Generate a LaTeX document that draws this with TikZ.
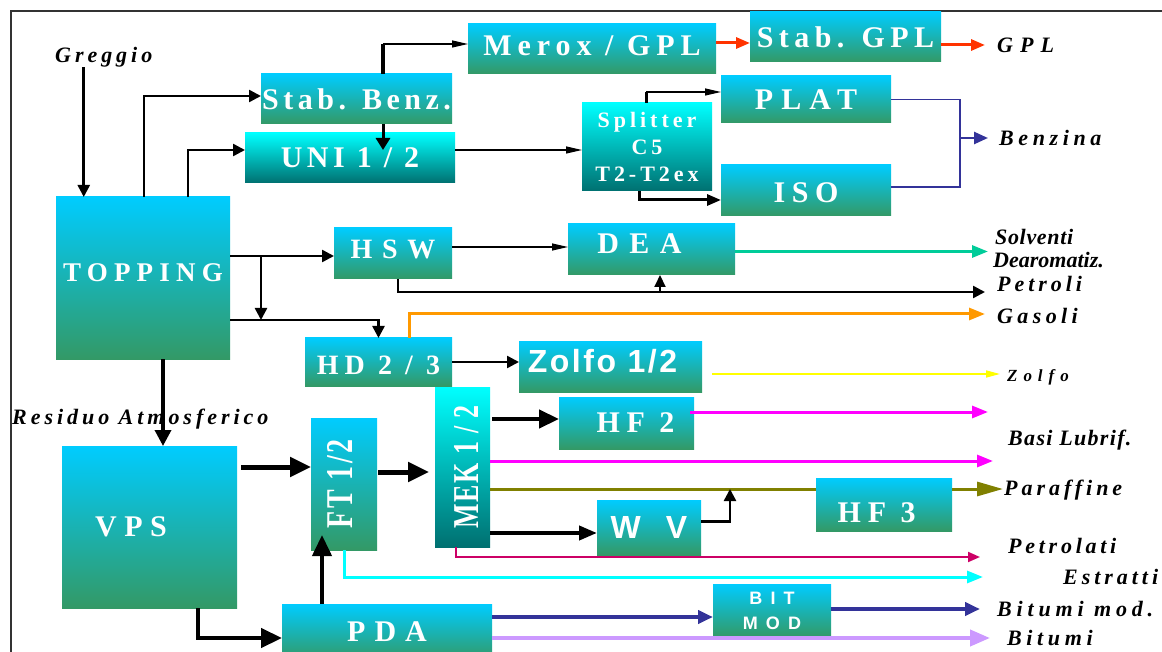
\documentclass[tikz,border=0pt]{standalone}
\usepackage{fontspec}
\usepackage{graphicx}
\setmainfont{Liberation Serif}
\newfontfamily\sansfam{Liberation Sans}
\usetikzlibrary{arrows.meta}

\definecolor{boxtop}{RGB}{0,204,255}
\definecolor{boxbot}{RGB}{51,153,102}
\definecolor{cyantop}{RGB}{0,255,255}
\definecolor{tealbot}{RGB}{0,112,112}
\definecolor{gplred}{RGB}{255,51,0}
\definecolor{benznavy}{RGB}{51,51,153}
\definecolor{solvgreen}{RGB}{0,204,153}
\definecolor{gasorange}{RGB}{255,153,0}
\definecolor{zolfoyel}{RGB}{255,255,0}
\definecolor{basimag}{RGB}{255,0,255}
\definecolor{paraolive}{RGB}{128,128,0}
\definecolor{petrcrim}{RGB}{204,0,102}
\definecolor{estrcyan}{RGB}{0,255,255}
\definecolor{bitlav}{RGB}{204,153,255}

% box fonts: size, letter spacing
\newcommand{\bxf}[2]{\fontsize{#1}{#1}\selectfont\bfseries\addfontfeature{LetterSpace=#2}}
\newcommand{\sxf}[2]{\sansfam\fontsize{#1}{#1}\selectfont\bfseries\addfontfeature{LetterSpace=#2}}
\newcommand{\lblf}[2]{\fontsize{#1}{#1}\selectfont\bfseries\itshape\addfontfeature{LetterSpace=#2}}
\newcommand{\liftby}[2]{\raisebox{#1}[\height][\depth]{#2}}

\tikzset{
  procbox/.style={top color=boxtop, bottom color=boxbot, text=white, inner sep=0pt, outer sep=0pt},
  procboxc/.style={procbox, top color=cyantop, bottom color=tealbot},
  prodlbl/.style={anchor=west, inner sep=0pt, font=\lblf{22}{18}},
  tipsz/.style 2 args={-{Triangle[length=#1pt,width=#2pt]}},
  pipe/.style={line width=2.5pt, tipsz={12}{12}},
  pipeheavy/.style={line width=5pt, tipsz={21}{19}},
  pipethin/.style={line width=1.2pt, tipsz={16}{7}},
}

\begin{document}
\begin{tikzpicture}[x=1pt,y=-1pt]
\useasboundingbox (0,0) rectangle (1162,652);
\draw[line width=1.2pt, black!80] (11,652) -- (11,11) -- (1162,11);

% process units
\node[procbox, minimum width=174pt, minimum height=162pt, font=\bxf{27}{23}] (topping) at (143,278) {\liftby{5pt}{TOPPING}};
\node[procbox, minimum width=191pt, minimum height=50pt, font=\bxf{30}{15}] (stabbenz) at (356.5,99) {Stab. Benz.};
\node[procboxc, minimum width=210pt, minimum height=50pt, font=\bxf{30}{15}] (uni) at (350,158) {UNI 1 / 2};
\node[procbox, minimum width=248pt, minimum height=50pt, font=\bxf{30}{20}] (merox) at (592,49) {\liftby{3pt}{Merox / GPL}};
\node[procbox, minimum width=191pt, minimum height=50pt, font=\bxf{30}{18}] (stabgpl) at (845.5,37) {Stab. GPL};
\node[procboxc, minimum width=130pt, minimum height=88pt, align=center,
      font=\fontsize{22}{27}\selectfont\bfseries\addfontfeature{LetterSpace=18}] (splitter) at (647,147) {Splitter\\C5\\T2-T2ex};
\node[procbox, minimum width=170pt, minimum height=47pt, font=\bxf{30}{27}] (plat) at (806,99.5) {PLAT};
\node[procbox, minimum width=170pt, minimum height=51pt, font=\bxf{30}{22}] (iso) at (806,190.5) {\liftby{-2pt}{ISO}};
\node[procbox, minimum width=118pt, minimum height=51pt, font=\bxf{28}{35}] (hsw) at (393,253.5) {\liftby{4pt}{HSW}};
\node[procbox, minimum width=167pt, minimum height=51pt, font=\bxf{30}{35}] (dea) at (651.5,249.5) {\hspace*{-24pt}\liftby{6pt}{DEA}};
\node[procbox, minimum width=147pt, minimum height=48pt, font=\bxf{28}{22}] (hd) at (378.5,362) {\liftby{-3pt}{HD 2 / 3}};
\node[procbox, minimum width=183pt, minimum height=51pt, font=\sxf{32}{8}] (zolfo) at (610.5,366.5) {\hspace*{-16pt}\liftby{5pt}{Zolfo 1/2}};
\node[procbox, minimum width=175pt, minimum height=162pt, font=\bxf{30}{25}] (vps) at (149.5,527) {\hspace*{-37pt}VPS};
\node[procbox, minimum width=66pt, minimum height=132pt, font=\bxf{28}{9}] (ft) at (344,484) {\hspace*{-8pt}\rotatebox{90}{\scalebox{1}[1.35]{FT 1/2}}};
\node[procboxc, minimum width=55pt, minimum height=160pt, font=\bxf{26}{7}] (mek) at (462.5,467) {\hspace*{9pt}\rotatebox{90}{\scalebox{1}[1.4]{MEK 1 / 2}}};
\node[procbox, minimum width=135pt, minimum height=52pt, font=\bxf{30}{23}] (hftwo) at (626.5,423) {\hspace*{18pt}HF 2};
\node[procbox, minimum width=104pt, minimum height=55pt, font=\sxf{32}{0}] (wv) at (649,527.5) {W\hspace{25pt}V};
\node[procbox, minimum width=136pt, minimum height=53pt, font=\bxf{30}{23}] (hfthree) at (884,504.5) {\hspace*{-15pt}\liftby{-8pt}{HF 3}};
\node[procbox, minimum width=118pt, minimum height=53pt, align=center,
      font=\sansfam\fontsize{18}{25}\selectfont\bfseries\addfontfeature{LetterSpace=45}] (bitmod) at (772,610.5) {BIT\\MOD};
\node[procbox, minimum width=210pt, minimum height=56pt, font=\bxf{30}{30}] (pda) at (387,632) {PDA};

% stream labels
\node[prodlbl] (lgreggio) at (55,57) {Greggio};
\node[prodlbl] (lresiduo) at (12,419) {Residuo Atmosferico};
\node[prodlbl, font=\lblf{22}{32}] (lgpl) at (997,45) {GPL};
\node[prodlbl, font=\lblf{22}{21}] (lbenz) at (999,138) {Benzina};
\node[prodlbl, font=\lblf{22}{3}] (lsolv) at (995,237) {Solventi};
\node[prodlbl, font=\lblf{22}{0}] (ldearo) at (993,260) {Dearomatiz.};
\node[prodlbl] (lpetroli) at (997,284) {Petroli};
\node[prodlbl, font=\lblf{22}{20}] (lgasoli) at (997,316) {Gasoli};
\node[prodlbl, font=\lblf{17}{35}] (lzolfo) at (1007,377) {Zolfo};
\node[prodlbl, font=\lblf{22}{6}] (lbasi) at (1008,440) {Basi Lubrif.};
\node[prodlbl] (lparaf) at (1004,490) {Paraffine};
\node[prodlbl, font=\lblf{22}{17}] (lpetrol) at (1008,546) {Petrolati};
\node[prodlbl] (lestr) at (1063,577) {Estratti};
\node[prodlbl, font=\lblf{22}{22}] (lbitmod) at (997,609) {Bitumi mod.};
\node[prodlbl, font=\lblf{22}{21}] (lbitumi) at (1007,638) {Bitumi};

% free ends of the product lines
\coordinate (egpl) at (985,45);
\coordinate (benzj) at (960,138);
\coordinate (ebenz) at (988,138);
\coordinate (esolv) at (988,251.5);
\coordinate (epetroli) at (985,292);
\coordinate (egasoli) at (985,314);
\coordinate (ezolfo) at (1000,374);
\coordinate (ehf) at (988,412);
\coordinate (ebasi) at (993,461);
\coordinate (wvup) at (730,489);
\coordinate (eparaf) at (1003,489);
\coordinate (epetrol) at (980,557);
\coordinate (eestr) at (983,577);
\coordinate (ebitmod) at (980,609);
\coordinate (ebitumi) at (990,638);

% crude and overheads
\coordinate (gin) at ([xshift=-20pt]lgreggio.south);
\draw[pipe] (gin) -- (gin |- topping.north);
\draw[pipe] ([xshift=1pt]topping.north) |- ([yshift=3pt]stabbenz.west);
\draw[pipe] ([xshift=45pt]topping.north) |- ([yshift=8pt]uni.west);
\draw[line width=3pt, tipsz={12}{14}] ([xshift=26.5pt]stabbenz.south) -- ([xshift=33pt,yshift=8pt]uni.center);
\coordinate (sbtop) at ([xshift=26.5pt]stabbenz.north);
\coordinate (mxin) at ([yshift=5pt]merox.west);
\draw[line width=4pt] (sbtop) -- (sbtop |- mxin);
\draw[pipethin] (sbtop |- mxin) -- (mxin);
\coordinate (mxout) at ([yshift=6pt]merox.east);
\draw[line width=3pt, gplred, tipsz={14}{11}] (mxout) -- (mxout -| stabgpl.west);
\draw[line width=3pt, gplred, tipsz={14}{11}] ([yshift=-8pt]stabgpl.east) -- (egpl);

% naphtha to reforming / isom
\coordinate (uniout) at ([yshift=8pt]uni.east);
\draw[pipethin] (uniout) -- (uniout -| splitter.west);
\coordinate (spltop) at ([xshift=-1pt]splitter.north);
\coordinate (platin) at ([yshift=7.5pt]plat.west);
\draw[line width=3pt] (spltop) -- (spltop |- platin);
\draw[pipethin] (spltop |- platin) -- (platin);
\draw[line width=3pt, tipsz={14}{11}] ([xshift=-8pt]splitter.south) |- ([yshift=-9.5pt]iso.west);
\draw[line width=1.5pt, benznavy] (plat.east) -| (benzj) |- ([yshift=3.5pt]iso.east);
\draw[line width=2.5pt, benznavy, tipsz={14}{12}] (benzj) -- (ebenz);

% topping side streams
\coordinate (tpa) at ([yshift=22pt]topping.east);
\coordinate (tpb) at ([yshift=-42pt]topping.east);
\draw[pipe] (tpa) -- (tpa -| hsw.west);
\draw[pipe] ([xshift=31pt]tpa) -- ([xshift=31pt]tpb);
\draw[pipe] (tpb) -| (hd.north);
\coordinate (hswout) at ([yshift=6.5pt]hsw.east);
\draw[pipethin] (hswout) -- (hswout -| dea.west);
\draw[line width=3pt, solvgreen, tipsz={16}{12}] ([yshift=-2pt]dea.east) -- (esolv);
\draw[pipe] ([xshift=5pt]hsw.south) |- (epetroli);
\coordinate (deain) at ([xshift=8.5pt]dea.south);
\draw[line width=2pt, tipsz={12}{11}] (deain |- epetroli) -- (deain);
\draw[line width=3pt, gasorange, tipsz={16}{12}] ([xshift=30.5pt]hd.north) |- (egasoli);
\draw[pipe] (hd.east) -- (hd.east -| zolfo.west);
\draw[line width=1.5pt, zolfoyel, tipsz={14}{7}] ([xshift=10pt,yshift=-7.5pt]zolfo.east) -- (ezolfo);

% atmospheric residue
\draw[line width=3.5pt, tipsz={16}{16}] ([xshift=20pt]topping.south) -- ([xshift=13.5pt]vps.north);
\coordinate (vpsout) at ([xshift=4pt,yshift=60pt]vps.east);
\draw[pipeheavy] (vpsout) -- (vpsout -| ft.west);
\coordinate (ftout) at ([xshift=1pt,yshift=12pt]ft.east);
\draw[pipeheavy, shorten >=6pt] (ftout) -- (ftout -| mek.west);
\draw[pipeheavy, line width=4.5pt] ([xshift=48.5pt]vps.south) |- ([yshift=-6pt]pda.west);
\draw[pipeheavy, line width=4pt] ([xshift=-65pt]pda.north) -- ([xshift=-22pt,yshift=15pt]ft.south);
\draw[line width=3pt, estrcyan, tipsz={16}{12}] (ft.south) |- (eestr);
\draw[line width=2pt, petrcrim, tipsz={12}{10}] ([xshift=-6.5pt]mek.south) |- (epetrol);

% lube oils
\coordinate (mekhf) at ([xshift=2pt,yshift=48pt]mek.east);
\draw[pipeheavy, line width=4.5pt, tipsz={20}{18}] (mekhf) -- (mekhf -| hftwo.west);
\draw[line width=3pt, basimag, tipsz={16}{12}] ([xshift=-4pt,yshift=11pt]hftwo.east) -- (ehf);
\draw[line width=3pt, basimag, tipsz={16}{12}] ([yshift=6pt]mek.east) -- (ebasi);
\coordinate (mekpar) at ([yshift=-22pt]mek.east);
\draw[line width=3pt, paraolive] (mekpar) -- (mekpar -| hfthree.west);
\draw[line width=3pt, paraolive, tipsz={26}{14}] ([yshift=15.5pt]hfthree.east) -- (eparaf);
\coordinate (mekwv) at ([yshift=-66pt]mek.east);
\draw[line width=4pt, tipsz={18}{14}] (mekwv) -- (mekwv -| wv.west);
\draw[pipe] ([yshift=6pt]wv.east) -| (wvup);

% bitumen
\coordinate (pdabit) at ([yshift=15pt]pda.east);
\draw[line width=4pt, benznavy, tipsz={15}{13}] (pdabit) -- (pdabit -| bitmod.west);
\draw[line width=4pt, benznavy, tipsz={15}{13}] ([yshift=1.5pt]bitmod.east) -- (ebitmod);
\draw[line width=4pt, bitlav, tipsz={20}{16}] ([yshift=-6pt]pda.east) -- (ebitumi);
\end{tikzpicture}
\end{document}
